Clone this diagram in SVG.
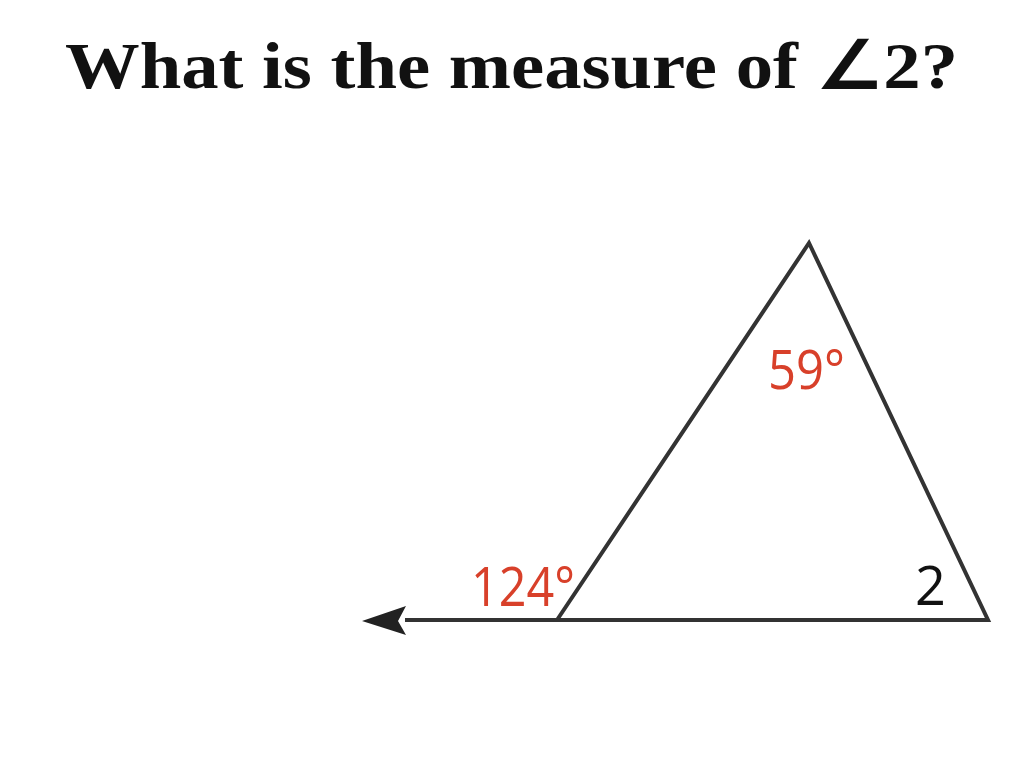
<svg xmlns="http://www.w3.org/2000/svg" width="1024" height="768" viewBox="0 0 1024 768">
<style>
.title{font-family:"Liberation Serif","Times New Roman",serif;font-weight:bold;font-size:66px;fill:#111}
.red{font-family:"Open Sans","Liberation Sans",sans-serif;font-size:54px;fill:#d8402a}
.blk{font-family:"Open Sans","Liberation Sans",sans-serif;font-size:54px;fill:#111}
.ln{stroke:#333;stroke-width:4;fill:none;stroke-linejoin:miter}
</style>
<defs>
<marker id="arr" viewBox="0 0 12 12" refX="1" refY="6" markerWidth="12" markerHeight="12" markerUnits="userSpaceOnUse" orient="auto">
<path d="M0,6 L12,0 L9,6 L12,12 Z" fill="#222"/>
</marker>
</defs>
<rect width="1024" height="768" fill="#fff"/>
<text class="title" x="65" y="88" textLength="893" lengthAdjust="spacingAndGlyphs">What is the measure of ∠2?</text>
<g id="connectors">
<line class="ln" x1="557" y1="620" x2="405" y2="620"/>
<path d="M362,621 L406,606 L398,621 L406,635 Z" fill="#222"/>
</g>
<g id="triangle">
<path class="ln" d="M557,620 L809,243 L988,620 Z"/>
</g>
<g id="labels">
<text class="red" x="768" y="389" textLength="77" lengthAdjust="spacingAndGlyphs">59°</text>
<text class="red" x="471" y="606" textLength="104" lengthAdjust="spacingAndGlyphs">124°</text>
<text class="blk" x="915" y="605">2</text>
</g>
</svg>
